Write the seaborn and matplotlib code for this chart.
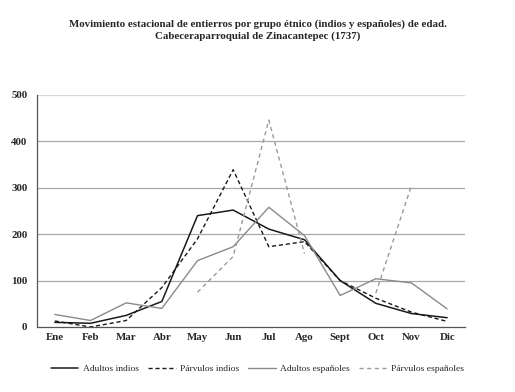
import numpy as np
import pandas as pd
import matplotlib
matplotlib.use("Agg")
import matplotlib.pyplot as plt
from matplotlib.lines import Line2D
import seaborn as sns

meses = ["Ene", "Feb", "Mar", "Abr", "May", "Jun", "Jul", "Ago", "Sept", "Oct", "Nov", "Dic"]
adultos_indios = [10, 8, 25, 55, 240, 252, 211, 188, 100, 51, 29, 20]
parvulos_indios = [13, 0, 14, 85, 190, 339, 173, 184, 100, 62, 32, 12]
adultos_espanoles = [27, 14, 52, 40, 143, 173, 258, 197, 68, 104, 95, 39]
parvulos_espanoles = [np.nan, np.nan, np.nan, np.nan, 75, 152, 446, 158, np.nan, 73, 305, np.nan]

series = {
    "Adultos indios": adultos_indios,
    "Párvulos indios": parvulos_indios,
    "Adultos españoles": adultos_espanoles,
    "Párvulos españoles": parvulos_espanoles,
}
styles = {
    "Adultos indios": dict(color="#1a1a1a", ls="-", lw=1.1),
    "Párvulos indios": dict(color="#1a1a1a", ls=(0, (3, 2)), lw=1.0),
    "Adultos españoles": dict(color="#8a8a8a", ls="-", lw=1.0),
    "Párvulos españoles": dict(color="#9a9a9a", ls=(0, (3, 2.5)), lw=1.0),
}

rows = []
for name, vals in series.items():
    seg = 0
    for i, v in enumerate(vals):
        if np.isnan(v):
            seg += 1
            continue
        rows.append(dict(serie=name, x=i, valor=v, seg=seg))
df = pd.DataFrame(rows)

sns.set_theme(style="white")
plt.rcParams["font.family"] = ["Liberation Serif", "DejaVu Serif"]

fig = plt.figure(figsize=(5.15, 3.92), dpi=100)
ax = fig.add_axes([37 / 515, 1 - 327 / 392, (465 - 37) / 515, (327 - 95) / 392])

handles = []
for name in series:
    sub = df[df.serie == name]
    st = styles[name]
    sns.lineplot(data=sub, x="x", y="valor", units="seg", estimator=None, ax=ax,
                 color=st["color"], linestyle=st["ls"], linewidth=st["lw"],
                 legend=False)
    handles.append(Line2D([], [], color=st["color"], linestyle=st["ls"], linewidth=st["lw"], label=name))

ax.set_xlim(-0.5, 11.5)
ax.set_ylim(0, 500)
ax.set_yticks([0, 100, 200, 300, 400, 500])
ax.set_yticklabels(["0", "100", "200", "300", "400", "500"], fontsize=7.8, fontweight="bold")
ax.set_xticks(range(12))
ax.set_xticklabels(meses, fontsize=7.8, fontweight="bold")
ax.set_xticks(np.arange(-0.5, 12, 1), minor=True)
ax.tick_params(axis="x", which="major", length=0, pad=4)
ax.tick_params(axis="x", which="minor", length=3, width=0.8, color="#555555", direction="out")
ax.tick_params(axis="y", length=3, width=0.8, color="#555555", direction="out", pad=4)
ax.set_xlabel("")
ax.set_ylabel("")

for v in [100, 200, 300, 400]:
    ax.axhline(v, color="#a8a8a8", lw=0.9, zorder=0)
ax.axhline(500, color="#d8d8d8", lw=1.6, zorder=0)

for s in ["top", "right"]:
    ax.spines[s].set_visible(False)
for s in ["left", "bottom"]:
    ax.spines[s].set_color("#555555")
    ax.spines[s].set_linewidth(0.9)

fig.text(0.5, 1 - 30 / 392, "Movimiento estacional de entierros por grupo étnico (indios y españoles) de edad.\nCabeceraparroquial de Zinacantepec (1737)",
         ha="center", va="center", fontsize=7.8, fontweight="bold", linespacing=1.4)

fig.legend(handles=handles, loc="center", bbox_to_anchor=(0.5, 1 - 369 / 392), ncol=4,
           frameon=False, fontsize=6.8, handlelength=2.9, columnspacing=1.0, handletextpad=0.45)

fig.savefig("out.png", dpi=100, facecolor="white")
